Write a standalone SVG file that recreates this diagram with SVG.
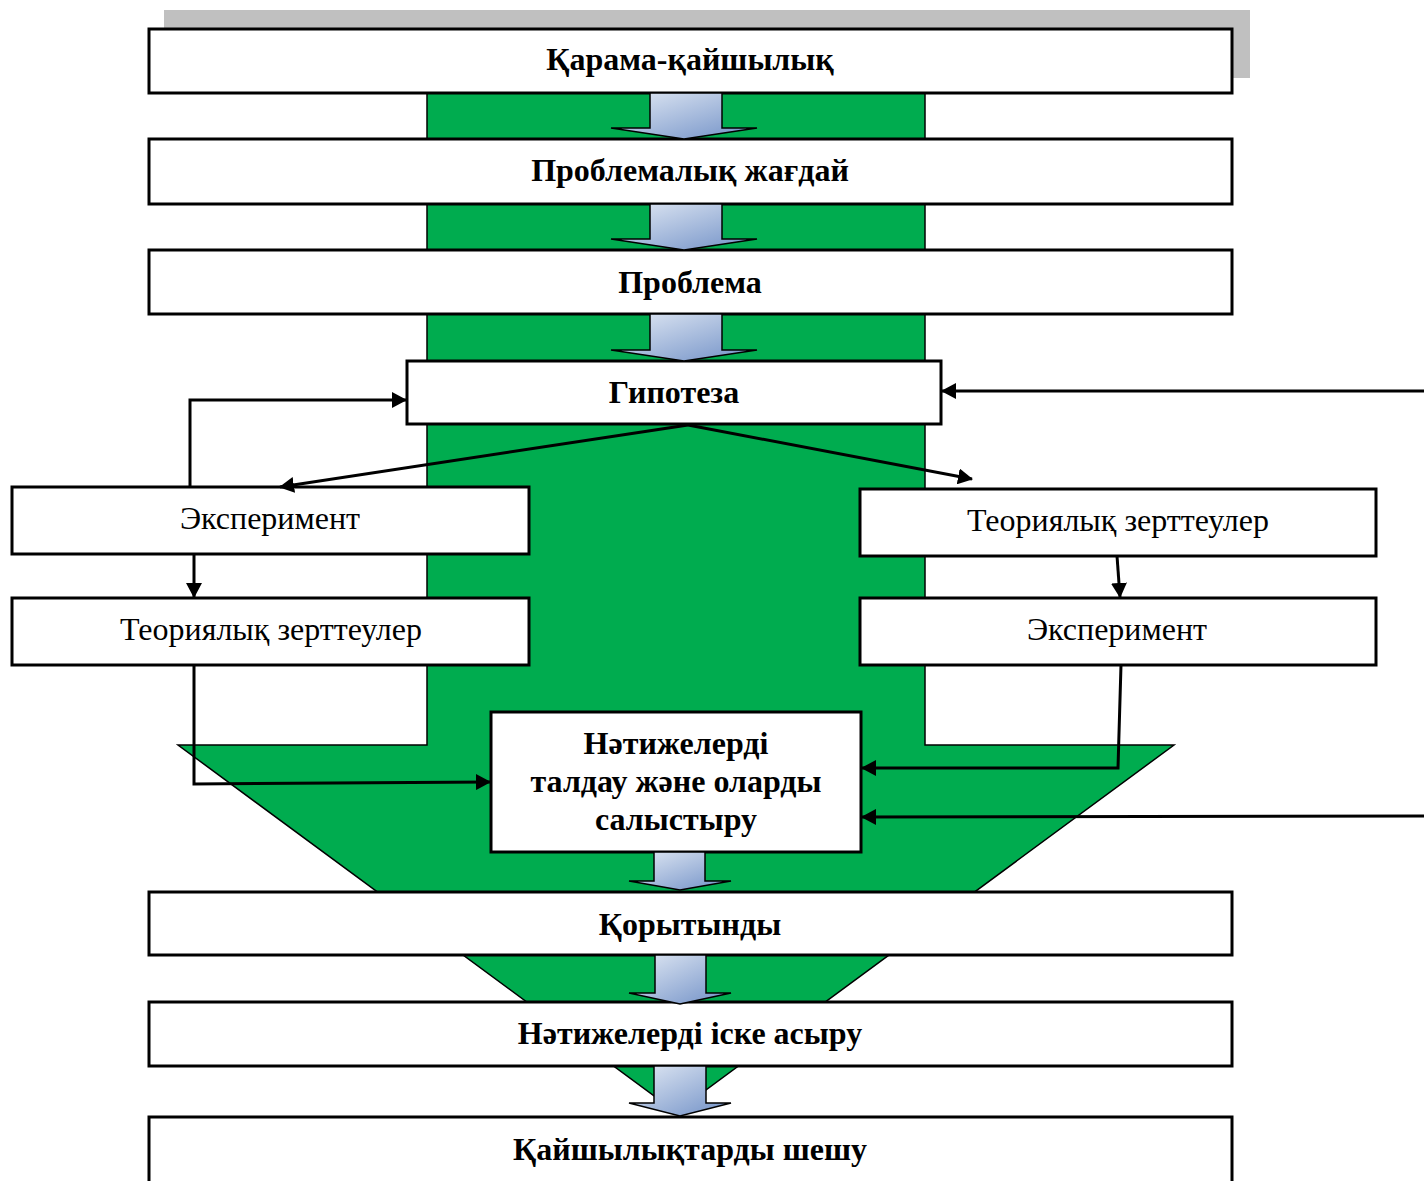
<svg xmlns="http://www.w3.org/2000/svg" width="1424" height="1181" viewBox="0 0 1424 1181">
<defs>
<linearGradient id="ag" x1="0" y1="0" x2="1" y2="1">
<stop offset="0" stop-color="#e4ebf5"/>
<stop offset="1" stop-color="#6f8fc6"/>
</linearGradient>
<marker id="ah" viewBox="0 0 15 16" refX="14" refY="8" markerWidth="15" markerHeight="16" markerUnits="userSpaceOnUse" orient="auto">
<path d="M0,0 L15,8 L0,16 z" fill="#000"/>
</marker>
<style>
.box{fill:#fff;stroke:#000;stroke-width:3}
.b{font-family:"Liberation Serif","Times New Roman",serif;font-size:32px;font-weight:bold;text-anchor:middle;fill:#000}
.r{font-family:"Liberation Serif","Times New Roman",serif;font-size:32px;text-anchor:middle;fill:#000}
.c{fill:none;stroke:#000;stroke-width:3;marker-end:url(#ah)}
.ba{fill:url(#ag);stroke:#000;stroke-width:1.5}
</style>
</defs>
<rect x="164" y="10" width="1086" height="68" fill="#c0c0c0"/>
<polygon points="427,93 925,93 925,745 1174,745 676,1112 178,745 427,745" fill="#00ac4f" stroke="#000" stroke-width="1.5"/>

<g id="n1"><rect class="box" x="149" y="29" width="1083" height="64"/><text class="b" x="690" y="70">Қарама-қайшылық</text></g>
<g id="n2"><rect class="box" x="149" y="139" width="1083" height="65"/><text class="b" x="690" y="181">Проблемалық жағдай</text></g>
<g id="n3"><rect class="box" x="149" y="250" width="1083" height="64"/><text class="b" x="690" y="293">Проблема</text></g>
<g id="n4"><rect class="box" x="407" y="361" width="534" height="63"/><text class="b" x="674" y="403">Гипотеза</text></g>
<g id="n5"><rect class="box" x="12" y="487" width="517" height="67"/><text class="r" x="270" y="529">Эксперимент</text></g>
<g id="n6"><rect class="box" x="860" y="489" width="516" height="67"/><text class="r" x="1118" y="531">Теориялық зерттеулер</text></g>
<g id="n7"><rect class="box" x="12" y="598" width="517" height="67"/><text class="r" x="271" y="640">Теориялық зерттеулер</text></g>
<g id="n8"><rect class="box" x="860" y="598" width="516" height="67"/><text class="r" x="1117" y="640">Эксперимент</text></g>
<g id="n9"><rect class="box" x="491" y="712" width="370" height="140"/><text class="b" x="676" y="754">Нәтижелерді</text><text class="b" x="676" y="792">талдау және оларды</text><text class="b" x="676" y="830">салыстыру</text></g>
<g id="n10"><rect class="box" x="149" y="892" width="1083" height="63"/><text class="b" x="690" y="935">Қорытынды</text></g>
<g id="n11"><rect class="box" x="149" y="1002" width="1083" height="64"/><text class="b" x="690" y="1044">Нәтижелерді іске асыру</text></g>
<g id="n12"><rect class="box" x="149" y="1117" width="1083" height="80"/><text class="b" x="690" y="1160">Қайшылықтарды шешу</text></g>

<g id="connectors">
<polygon class="ba" points="650,93 722,93 722,128 757,128 684,139 611,128 650,128"/>
<polygon class="ba" points="650,204 722,204 722,239 757,239 684,250 611,239 650,239"/>
<polygon class="ba" points="650,314 722,314 722,350 757,350 684,361 611,350 650,350"/>
<polygon class="ba" points="654,852 705,852 705,881 731,881 680,890 629,881 654,881"/>
<polygon class="ba" points="655,955 706,955 706,993 731,993 680,1004 629,993 655,993"/>
<polygon class="ba" points="654,1066 706,1066 706,1103 731,1103 680,1116 629,1103 654,1103"/>
<path class="c" d="M688,425 L280,487"/>
<path class="c" d="M688,425 L972,479"/>
<path class="c" d="M190,487 L190,400 L406,400"/>
<path class="c" d="M194,555 L194,597"/>
<path class="c" d="M1117,556 L1120,597"/>
<path class="c" d="M194,665 L194,784 L490,782"/>
<path class="c" d="M1121,665 L1118,768 L862,768"/>
<path class="c" d="M1424,816 L862,817"/>
<path class="c" d="M1424,391 L942,391"/>
</g>
</svg>
